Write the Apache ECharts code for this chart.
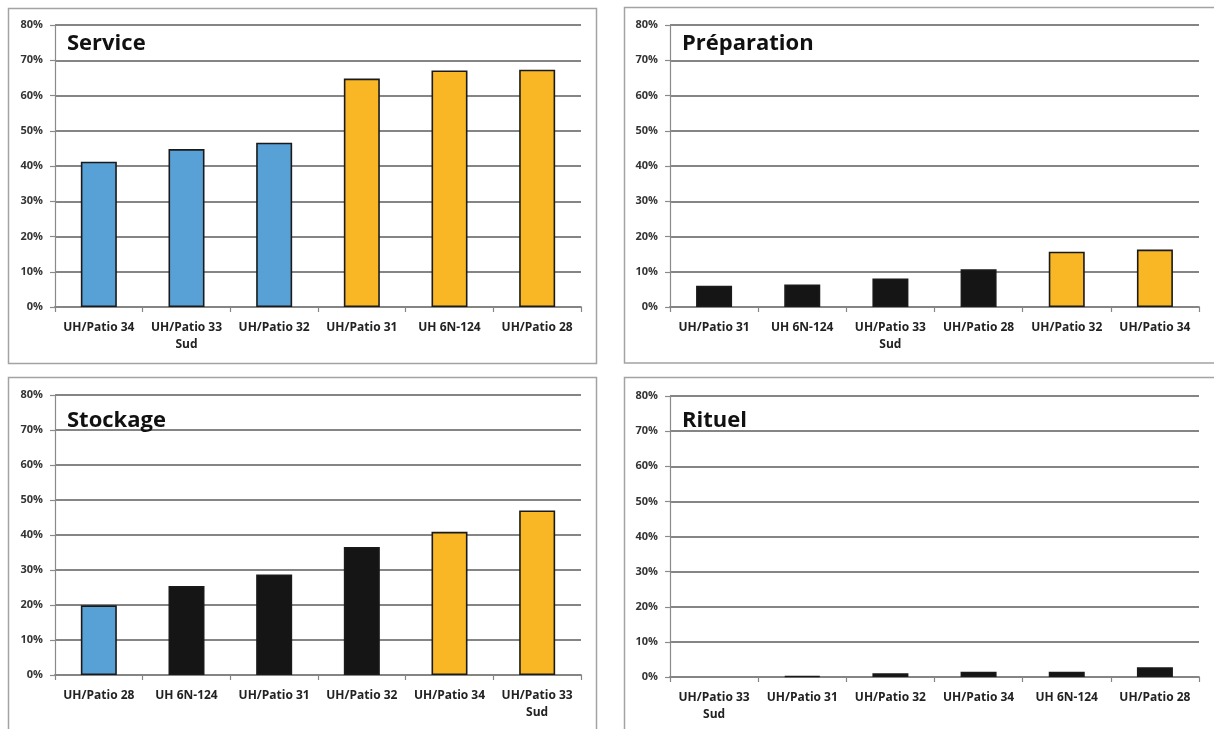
<!DOCTYPE html>
<html>
<head>
<meta charset="utf-8">
<script src="https://cdn.jsdelivr.net/npm/echarts@6/dist/echarts.min.js"></script>
<style>
html,body{margin:0;padding:0;background:#fff;}
#c{width:1214px;height:729px;}
</style>
</head>
<body>
<div id="c"></div>
<script>
// ---- data ----
const yTicks = { min: 0, max: 80, interval: 10 };

const serviceTitle = 'Service';
const serviceCats = ['UH/Patio 34', 'UH/Patio 33\nSud', 'UH/Patio 32', 'UH/Patio 31', 'UH 6N-124', 'UH/Patio 28'];
const serviceValues = [41.2, 44.8, 46.6, 64.8, 67.1, 67.3];
const serviceGroups = ['blue', 'blue', 'blue', 'yellow', 'yellow', 'yellow'];

const prepTitle = 'Préparation';
const prepCats = ['UH/Patio 31', 'UH 6N-124', 'UH/Patio 33\nSud', 'UH/Patio 28', 'UH/Patio 32', 'UH/Patio 34'];
const prepValues = [6.0, 6.4, 8.1, 10.7, 15.7, 16.3];
const prepGroups = ['black', 'black', 'black', 'black', 'yellow', 'yellow'];

const stockTitle = 'Stockage';
const stockCats = ['UH/Patio 28', 'UH 6N-124', 'UH/Patio 31', 'UH/Patio 32', 'UH/Patio 34', 'UH/Patio 33\nSud'];
const stockValues = [19.9, 25.4, 28.7, 36.6, 40.9, 47.0];
const stockGroups = ['blue', 'black', 'black', 'black', 'yellow', 'yellow'];

const ritTitle = 'Rituel';
const ritCats = ['UH/Patio 33\nSud', 'UH/Patio 31', 'UH/Patio 32', 'UH/Patio 34', 'UH 6N-124', 'UH/Patio 28'];
const ritValues = [0, 0.25, 1.1, 1.5, 1.5, 2.8];
const ritGroups = ['black', 'black', 'black', 'black', 'black', 'black'];

// ---- styling ----
const groupColors = { blue: '#58A1D6', yellow: '#F9B726', black: '#151515' };
const FONT = '"Open Sans", "Noto Sans", sans-serif';

const panels = [
  { title: serviceTitle, cats: serviceCats, values: serviceValues, groups: serviceGroups,
    grid: { left: 55, top: 25, width: 526, height: 282 }, box: [8.5, 8.5, 588, 355], titlePos: [67, 44] },
  { title: prepTitle, cats: prepCats, values: prepValues, groups: prepGroups,
    grid: { left: 670, top: 25, width: 529, height: 282 }, box: [624.5, 7.5, 640, 355.5], titlePos: [682, 44] },
  { title: stockTitle, cats: stockCats, values: stockValues, groups: stockGroups,
    grid: { left: 55, top: 395, width: 526, height: 280 }, box: [8.5, 377.5, 588, 420], titlePos: [67, 421] },
  { title: ritTitle, cats: ritCats, values: ritValues, groups: ritGroups,
    grid: { left: 670, top: 396, width: 529, height: 281 }, box: [624.5, 377.5, 640, 420], titlePos: [682, 421] }
];

const option = {
  animation: false,
  backgroundColor: '#ffffff',
  grid: [], xAxis: [], yAxis: [], series: [], graphic: []
};

panels.forEach((p, i) => {
  option.grid.push(Object.assign({ containLabel: false }, p.grid));
  option.xAxis.push({
    type: 'category', gridIndex: i, data: p.cats,
    axisLine: { lineStyle: { color: '#858585', width: 1.8 } },
    axisTick: { show: true, length: 5, lineStyle: { color: '#858585', width: 1.2 } },
    axisLabel: { interval: 0, margin: 12, color: '#222', fontFamily: FONT, fontWeight: 'bold', fontSize: 12, lineHeight: 17 }
  });
  option.yAxis.push({
    type: 'value', gridIndex: i, min: yTicks.min, max: yTicks.max, interval: yTicks.interval,
    axisLine: { show: true, lineStyle: { color: '#8a8a8a', width: 1.2 } },
    axisTick: { show: true, length: 5, lineStyle: { color: '#8a8a8a', width: 1.2 } },
    splitLine: { show: true, lineStyle: { color: '#858585', width: 1.8 } },
    axisLabel: { margin: 12, color: '#333', fontFamily: FONT, fontWeight: 'bold', fontSize: 11, formatter: '{value}%' }
  });
  option.series.push({
    type: 'bar', xAxisIndex: i, yAxisIndex: i, barWidth: 36,
    data: p.values.map((v, k) => ({
      value: v,
      itemStyle: { color: groupColors[p.groups[k]], borderColor: '#1a1a1a', borderWidth: v > 0 ? 1.6 : 0 }
    }))
  });
  option.graphic.push({
    type: 'rect', silent: true,
    shape: { x: p.box[0], y: p.box[1], width: p.box[2], height: p.box[3] },
    style: { fill: 'none', stroke: '#a3a3a3', lineWidth: 1.5 }, z: 0
  });
  option.graphic.push({
    type: 'text', silent: true, x: p.titlePos[0], y: p.titlePos[1],
    style: { text: p.title, fontFamily: FONT, fontWeight: 'bold', fontSize: 22, fill: '#111', verticalAlign: 'middle' },
    z: 10
  });
});

const chart = echarts.init(document.getElementById('c'), null, { renderer: 'canvas' });
chart.setOption(option);
</script>
</body>
</html>
